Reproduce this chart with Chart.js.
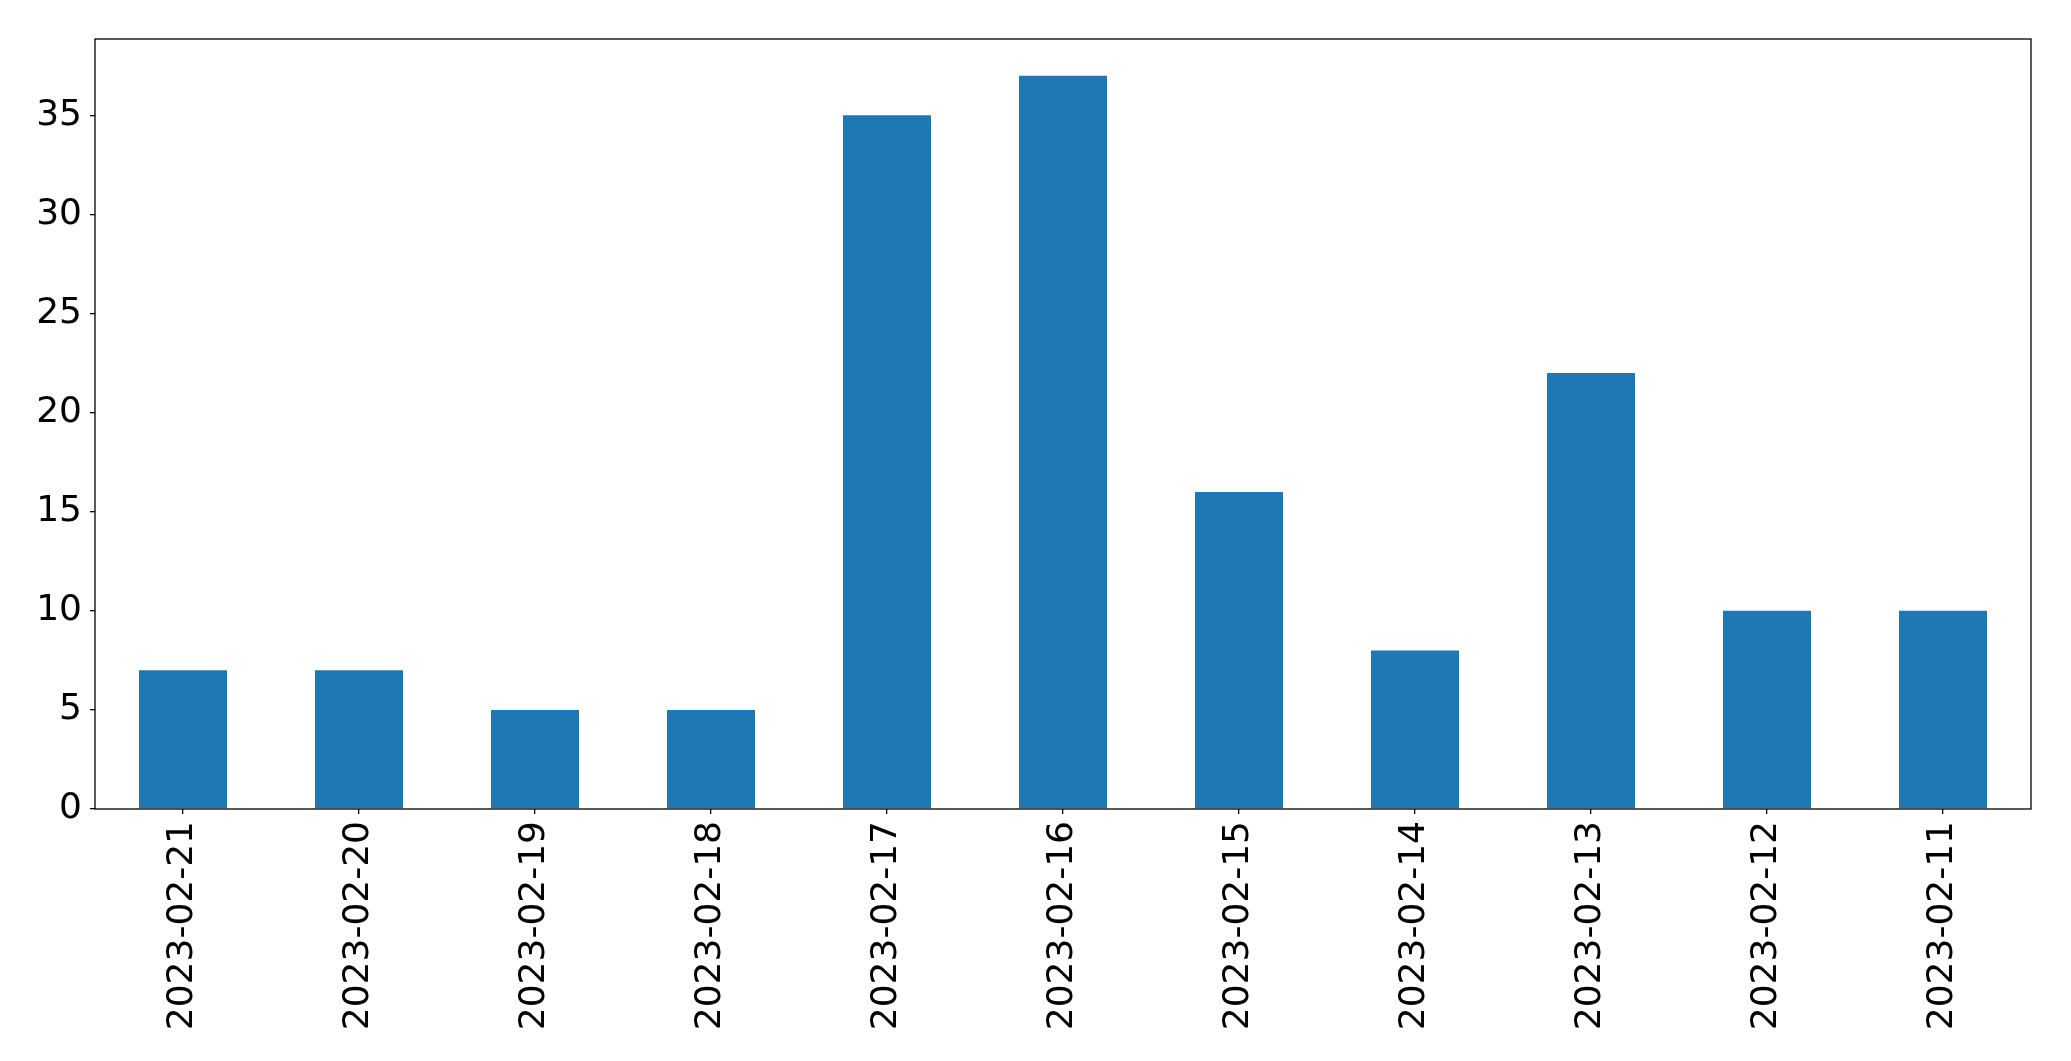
<!DOCTYPE html>
<html>
<head>
<meta charset="utf-8">
<script src="https://cdn.jsdelivr.net/npm/chart.js@4"></script>
<style>
  html, body { margin: 0; padding: 0; background: #fff; }
  #wrap { width: 2071px; height: 1061px; }
</style>
</head>
<body>
<div id="wrap"><canvas id="chart" width="2071" height="1061"></canvas></div>
<script>
// --- Data ---
const DATES = [
  "2023-02-21", "2023-02-20", "2023-02-19", "2023-02-18", "2023-02-17", "2023-02-16",
  "2023-02-15", "2023-02-14", "2023-02-13", "2023-02-12", "2023-02-11",
];
const COUNTS = [7, 7, 5, 5, 35, 37, 16, 8, 22, 10, 10];
const Y_TICKS = [0, 5, 10, 15, 20, 25, 30, 35];
const Y_MAX = 38.85;

const FONT = { family: "'DejaVu Sans', sans-serif", size: 36 };

// frame round the plot area, like matplotlib's spines
const framePlugin = {
  id: "frame",
  afterDraw(chart) {
    const a = chart.chartArea;
    const ctx = chart.ctx;
    ctx.save();
    ctx.strokeStyle = "#000";
    ctx.lineWidth = 1.3;
    ctx.strokeRect(a.left, a.top, a.right - a.left, a.bottom - a.top);
    ctx.restore();
  },
};

new Chart(document.getElementById("chart").getContext("2d"), {
  type: "bar",
  data: {
    labels: DATES,
    datasets: [{
      data: COUNTS,
      backgroundColor: "#1f77b4",
      borderWidth: 0,
      barPercentage: 0.5,
      categoryPercentage: 1.0,
    }],
  },
  options: {
    responsive: false,
    animation: false,
    devicePixelRatio: 1,
    layout: { padding: { left: 0, top: 39, right: 40, bottom: 0 } },
    plugins: { legend: { display: false }, tooltip: { enabled: false } },
    scales: {
      x: {
        offset: true,
        grid: { display: true, offset: false, drawOnChartArea: false, drawTicks: true, tickLength: 5, color: "#000", lineWidth: 1.3 },
        border: { display: false },
        ticks: { color: "#000", font: FONT, minRotation: 90, maxRotation: 90, padding: 7, autoSkip: false },
        afterFit: s => { s.height = 1061 - 809; },
      },
      y: {
        min: 0,
        max: Y_MAX,
        grid: { display: true, drawOnChartArea: false, drawTicks: true, tickLength: 5, color: "#000", lineWidth: 1.3 },
        border: { display: false },
        ticks: { color: "#000", font: FONT, padding: 8, stepSize: 5 },
        afterBuildTicks: s => { s.ticks = Y_TICKS.map(v => ({ value: v })); },
        afterFit: s => { s.width = 95; },
      },
    },
  },
  plugins: [framePlugin],
});
</script>
</body>
</html>
